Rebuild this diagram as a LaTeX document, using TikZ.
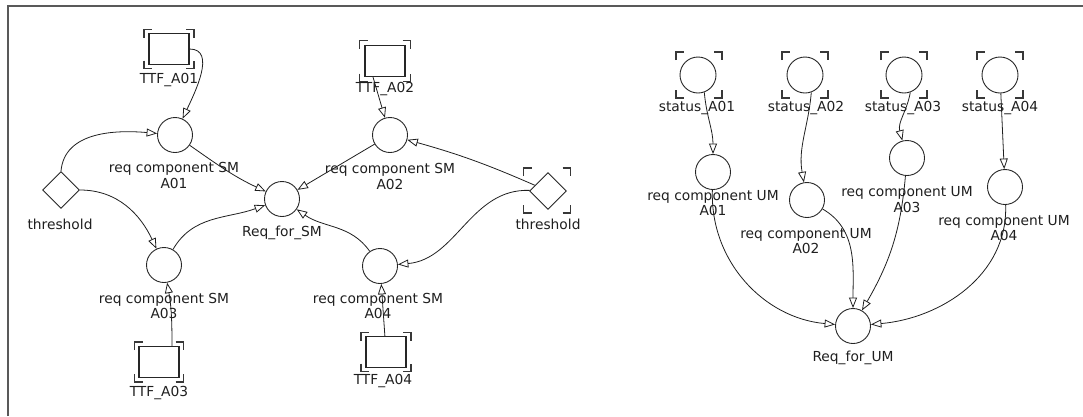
\documentclass[tikz,border=0pt]{standalone}
\usepackage{fontspec}
\setmainfont{DejaVu Sans}
\usetikzlibrary{arrows.meta,shapes.geometric}
\tikzset{
 place/.style={circle,draw=black!85,line width=0.9pt,minimum size=35pt,inner sep=0pt},
 tbox/.style={rectangle,draw=black!85,line width=1.1pt,minimum width=40pt,minimum height=31pt,inner sep=0pt},
 dia/.style={diamond,draw=black!85,line width=0.9pt,minimum width=37pt,minimum height=37pt,inner sep=0pt},
 lbl/.style={font=\fontsize{13.8}{15.5}\selectfont,text=black!88,align=center,inner sep=0pt},
 arc/.style={draw=black!88,line width=0.8pt,-{Triangle[open,length=10.5pt,width=8pt,line width=0.8pt]}},
 brk/.style={draw=black!78,line width=1.6pt},
 frame/.style={draw=black!65,line width=2pt},
}
\newcommand\cornermarks[4]{%
\draw[brk] ({#1-#3},{-#2+#4-8}) -- ({#1-#3},{-#2+#4}) -- ({#1-#3+8},{-#2+#4});
\draw[brk] ({#1+#3-8},{-#2+#4}) -- ({#1+#3},{-#2+#4}) -- ({#1+#3},{-#2+#4-8});
\draw[brk] ({#1-#3},{-#2-#4+8}) -- ({#1-#3},{-#2-#4}) -- ({#1-#3+8},{-#2-#4});
\draw[brk] ({#1+#3-8},{-#2-#4}) -- ({#1+#3},{-#2-#4}) -- ({#1+#3},{-#2-#4+8});
}
\begin{document}
\begin{tikzpicture}[x=1pt,y=1pt]
\useasboundingbox (0,0) rectangle (1083,-416);
\draw[frame] (8,-416) -- (8,-6) -- (1083,-6);

% ---------- left net ----------
\node[tbox] (ttf1) at (169,-49) {};
\node[tbox] (ttf2) at (385,-61) {};
\node[tbox] (ttf3) at (159,-362) {};
\node[tbox] (ttf4) at (386,-352) {};
\cornermarks{169}{49}{25}{19.5}
\cornermarks{385}{61}{25.5}{20.5}
\cornermarks{159}{362}{24.5}{20}
\cornermarks{386}{352}{25}{19.5}
\node[lbl] (ttf1l) at (169,-80) {TTF\_A01};
\node[lbl] (ttf2l) at (385,-89) {TTF\_A02};
\node[lbl] (ttf3l) at (159,-393) {TTF\_A03};
\node[lbl] (ttf4l) at (383,-381) {TTF\_A04};

\node[place] (sm1) at (175,-135) {};
\node[place] (sm2) at (390,-135) {};
\node[place] (sm3) at (164,-265) {};
\node[place] (sm4) at (380,-266) {};
\node[place] (req) at (282,-199) {};
\node[lbl] (sm1l) at (174,-175.5) {req component SM\\A01};
\node[lbl] (sm2l) at (390,-176.5) {req component SM\\A02};
\node[lbl] (sm3l) at (164,-306) {req component SM\\A03};
\node[lbl] (sm4l) at (378,-306) {req component SM\\A04};
\node[lbl] (reql) at (282,-233) {Req\_for\_SM};

\node[dia] (thl) at (61,-190) {};
\node[dia] (thr) at (548,-191) {};
\cornermarks{547}{190.5}{23.5}{22.5}
\node[lbl] (thll) at (60,-224) {threshold};
\node[lbl] (thrl) at (548,-224) {threshold};

\draw[arc] (ttf1.east) to[out=0,in=65] (sm1);
\draw[arc] (thl.north) to[out=85,in=175] (sm1);
\draw[arc] (thl.east) to[out=0,in=115] (sm3);
\draw[arc] (sm1) to[out=-35,in=155] (req);
\draw[arc] (sm2) -- (req);
\draw[arc] (thr) to[bend right=4] (sm2);
\draw[arc] (thr) to[out=178,in=5] (sm4);
\draw[arc] (sm4) to[out=125,in=-35] (req);
\draw[arc] (sm3) to[out=60,in=200] (req);
\draw[arc] ([xshift=13pt]ttf3.north) to[out=90,in=-80] (sm3);
\draw[arc] (ttf4) -- (sm4);
\draw[arc] ([xshift=-12pt]ttf2.south) -- (sm2);

% ---------- right net ----------
\node[place,minimum size=36pt] (st1) at (698,-75) {};
\node[place,minimum size=36pt] (st2) at (805,-75) {};
\node[place,minimum size=36pt] (st3) at (904,-75) {};
\node[place,minimum size=36pt] (st4) at (1000,-75) {};
\cornermarks{699}{75}{23}{23}
\cornermarks{805}{75}{23}{23}
\cornermarks{904}{75}{23}{23}
\cornermarks{1000}{75}{23}{23}
\node[lbl] (st1l) at (697,-108) {status\_A01};
\node[lbl] (st2l) at (806,-108) {status\_A02};
\node[lbl] (st3l) at (903,-108) {status\_A03};
\node[lbl] (st4l) at (1000,-108) {status\_A04};

\node[place] (um1) at (713,-172) {};
\node[place] (um2) at (807,-200) {};
\node[place] (um3) at (907,-158) {};
\node[place] (um4) at (1005,-187) {};
\node[place] (requm) at (853,-326) {};
\node[lbl] (um1l) at (713,-203) {req component UM\\A01};
\node[lbl] (um2l) at (806,-241) {req component UM\\A02};
\node[lbl] (um3l) at (907,-199.5) {req component UM\\A03};
\node[lbl] (um4l) at (1004,-228) {req component UM\\A04};
\node[lbl] (requml) at (853,-358) {Req\_for\_UM};

\draw[arc] (st1.-70) to[out=-85,in=90] (um1);
\draw[arc] (st2.-70) to[out=-95,in=100] (um2);
\draw[arc] (st3.-70) to[out=-100,in=105] (um3);
\draw[arc] (st4) -- (um4);
\draw[arc] (um1) to[out=-92,in=175] (requm);
\draw[arc] (um2) to[out=-30,in=90] (requm);
\draw[arc] (um3) to[out=-95,in=60] (requm);
\draw[arc] (um4) to[out=-88,in=5] (requm);
\end{tikzpicture}
\end{document}
